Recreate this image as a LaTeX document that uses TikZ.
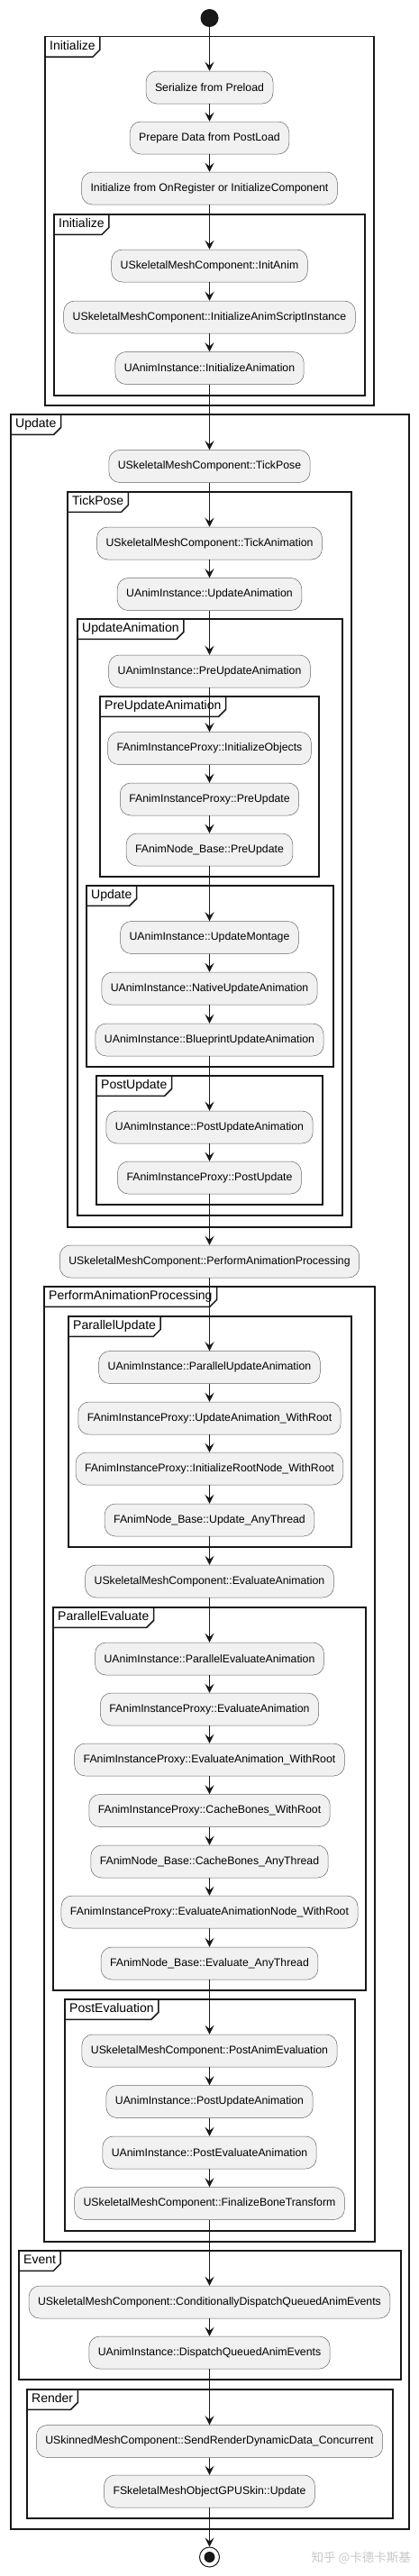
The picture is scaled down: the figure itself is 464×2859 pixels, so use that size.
\documentclass[tikz,border=0pt]{standalone}
\usepackage{fontspec}
\setmainfont{Liberation Sans}
\newfontfamily\cjkfont{Noto Sans CJK SC}
\usetikzlibrary{arrows.meta}
\definecolor{lineclr}{HTML}{181818}
\definecolor{actfill}{HTML}{F1F1F1}

\begin{document}
\begin{tikzpicture}[x=1pt, y=-1pt,
  act/.style={rectangle, draw=black!60, line width=0.5pt, fill=actfill, rounded corners=12pt, minimum height=36pt, inner xsep=10pt, font=\fontsize{12.3}{14}\selectfont},
  arrow/.style={-{Stealth[length=10pt, width=10pt, inset=4pt]}, line width=1pt, draw=lineclr},
  frm/.style={draw=lineclr, line width=1.5pt},
  tab/.style={anchor=north west, inner xsep=5pt, inner ysep=0pt, minimum height=22pt, text height=10pt, text depth=3pt, font=\fontsize{14}{16}\selectfont}
]
  \useasboundingbox (0,0) rectangle (464,2859);

  % frames
  \draw[frm] (50,40.7) rectangle (415,450);
  \node[tab] (tInit) at (50,40.7) {Initialize};
  \draw[frm] (tInit.south west) -- ([xshift=-8pt]tInit.south east) -- ([yshift=8pt]tInit.south east) -- (tInit.north east);
  \draw[frm] (60,238) rectangle (405,439);
  \node[tab] (tInitB) at (60,238) {Initialize};
  \draw[frm] (tInitB.south west) -- ([xshift=-8pt]tInitB.south east) -- ([yshift=8pt]tInitB.south east) -- (tInitB.north east);
  \draw[frm] (12,460) rectangle (454,2807);
  \node[tab] (tUpd) at (12,460) {Update};
  \draw[frm] (tUpd.south west) -- ([xshift=-8pt]tUpd.south east) -- ([yshift=8pt]tUpd.south east) -- (tUpd.north east);
  \draw[frm] (75,546) rectangle (390,1362);
  \node[tab] (tTick) at (75,546) {TickPose};
  \draw[frm] (tTick.south west) -- ([xshift=-8pt]tTick.south east) -- ([yshift=8pt]tTick.south east) -- (tTick.north east);
  \draw[frm] (86,687) rectangle (380,1349);
  \node[tab] (tUpdAnim) at (86,687) {UpdateAnimation};
  \draw[frm] (tUpdAnim.south west) -- ([xshift=-8pt]tUpdAnim.south east) -- ([yshift=8pt]tUpdAnim.south east) -- (tUpdAnim.north east);
  \draw[frm] (111,773) rectangle (354,973);
  \node[tab] (tPre) at (111,773) {PreUpdateAnimation};
  \draw[frm] (tPre.south west) -- ([xshift=-8pt]tPre.south east) -- ([yshift=8pt]tPre.south east) -- (tPre.north east);
  \draw[frm] (96,983) rectangle (370,1184);
  \node[tab] (tUpdB) at (96,983) {Update};
  \draw[frm] (tUpdB.south west) -- ([xshift=-8pt]tUpdB.south east) -- ([yshift=8pt]tUpdB.south east) -- (tUpdB.north east);
  \draw[frm] (107,1194) rectangle (358,1337);
  \node[tab] (tPost) at (107,1194) {PostUpdate};
  \draw[frm] (tPost.south west) -- ([xshift=-8pt]tPost.south east) -- ([yshift=8pt]tPost.south east) -- (tPost.north east);
  \draw[frm] (49,1428) rectangle (416,2488);
  \node[tab] (tPerf) at (49,1428) {PerformAnimationProcessing};
  \draw[frm] (tPerf.south west) -- ([xshift=-8pt]tPerf.south east) -- ([yshift=8pt]tPerf.south east) -- (tPerf.north east);
  \draw[frm] (76,1461) rectangle (390,1717);
  \node[tab] (tParUpd) at (76,1461) {ParallelUpdate};
  \draw[frm] (tParUpd.south west) -- ([xshift=-8pt]tParUpd.south east) -- ([yshift=8pt]tParUpd.south east) -- (tParUpd.north east);
  \draw[frm] (59,1784) rectangle (406,2209);
  \node[tab] (tParEval) at (59,1784) {ParallelEvaluate};
  \draw[frm] (tParEval.south west) -- ([xshift=-8pt]tParEval.south east) -- ([yshift=8pt]tParEval.south east) -- (tParEval.north east);
  \draw[frm] (72,2219) rectangle (394,2476);
  \node[tab] (tPostEval) at (72,2219) {PostEvaluation};
  \draw[frm] (tPostEval.south west) -- ([xshift=-8pt]tPostEval.south east) -- ([yshift=8pt]tPostEval.south east) -- (tPostEval.north east);
  \draw[frm] (21,2498) rectangle (445,2641);
  \node[tab] (tEvent) at (21,2498) {Event};
  \draw[frm] (tEvent.south west) -- ([xshift=-8pt]tEvent.south east) -- ([yshift=8pt]tEvent.south east) -- (tEvent.north east);
  \draw[frm] (30,2652) rectangle (436,2795);
  \node[tab] (tRender) at (30,2652) {Render};
  \draw[frm] (tRender.south west) -- ([xshift=-8pt]tRender.south east) -- ([yshift=8pt]tRender.south east) -- (tRender.north east);

  % activities
  \node[circle, fill=lineclr, minimum size=20pt, inner sep=0pt] (start) at (232.5,20) {};
  \node[act] (serialize) at (232.5,97) {Serialize from Preload};
  \node[act] (prepare) at (232.5,153) {Prepare Data from PostLoad};
  \node[act] (register) at (232.5,209) {Initialize from OnRegister or InitializeComponent};
  \node[act] (initanim) at (232.5,295) {USkeletalMeshComponent::InitAnim};
  \node[act] (scriptinst) at (232.5,352) {USkeletalMeshComponent::InitializeAnimScriptInstance};
  \node[act] (initanimation) at (232.5,408.5) {UAnimInstance::InitializeAnimation};
  \node[act] (tickpose) at (232.5,517.5) {USkeletalMeshComponent::TickPose};
  \node[act] (tickanim) at (232.5,603) {USkeletalMeshComponent::TickAnimation};
  \node[act] (updanim) at (232.5,659.5) {UAnimInstance::UpdateAnimation};
  \node[act] (preupd) at (232.5,745) {UAnimInstance::PreUpdateAnimation};
  \node[act] (initobj) at (232.5,830.5) {FAnimInstanceProxy::InitializeObjects};
  \node[act] (proxypre) at (232.5,887) {FAnimInstanceProxy::PreUpdate};
  \node[act] (nodepre) at (232.5,943) {FAnimNode\_Base::PreUpdate};
  \node[act] (montage) at (232.5,1040.5) {UAnimInstance::UpdateMontage};
  \node[act] (native) at (232.5,1097) {UAnimInstance::NativeUpdateAnimation};
  \node[act] (blueprint) at (232.5,1154) {UAnimInstance::BlueprintUpdateAnimation};
  \node[act] (postupd) at (232.5,1251) {UAnimInstance::PostUpdateAnimation};
  \node[act] (proxypost) at (232.5,1307) {FAnimInstanceProxy::PostUpdate};
  \node[act] (perform) at (232.5,1400) {USkeletalMeshComponent::PerformAnimationProcessing};
  \node[act] (parupd) at (232.5,1517.5) {UAnimInstance::ParallelUpdateAnimation};
  \node[act] (updroot) at (232.5,1574) {FAnimInstanceProxy::UpdateAnimation\_WithRoot};
  \node[act] (initroot) at (232.5,1630) {FAnimInstanceProxy::InitializeRootNode\_WithRoot};
  \node[act] (updany) at (232.5,1687) {FAnimNode\_Base::Update\_AnyThread};
  \node[act] (evalanim) at (232.5,1755) {USkeletalMeshComponent::EvaluateAnimation};
  \node[act] (pareval) at (232.5,1841) {UAnimInstance::ParallelEvaluateAnimation};
  \node[act] (proxyeval) at (232.5,1897) {FAnimInstanceProxy::EvaluateAnimation};
  \node[act] (evalroot) at (232.5,1953) {FAnimInstanceProxy::EvaluateAnimation\_WithRoot};
  \node[act] (cacheroot) at (232.5,2009.5) {FAnimInstanceProxy::CacheBones\_WithRoot};
  \node[act] (cacheany) at (232.5,2066) {FAnimNode\_Base::CacheBones\_AnyThread};
  \node[act] (evalnode) at (232.5,2122) {FAnimInstanceProxy::EvaluateAnimationNode\_WithRoot};
  \node[act] (evalany) at (232.5,2179) {FAnimNode\_Base::Evaluate\_AnyThread};
  \node[act] (postanim) at (232.5,2276) {USkeletalMeshComponent::PostAnimEvaluation};
  \node[act] (postupdb) at (232.5,2332.5) {UAnimInstance::PostUpdateAnimation};
  \node[act] (posteval) at (232.5,2389) {UAnimInstance::PostEvaluateAnimation};
  \node[act] (finalize) at (232.5,2445.5) {USkeletalMeshComponent::FinalizeBoneTransform};
  \node[act] (condevents) at (232.5,2555) {USkeletalMeshComponent::ConditionallyDispatchQueuedAnimEvents};
  \node[act] (dispatch) at (232.5,2611) {UAnimInstance::DispatchQueuedAnimEvents};
  \node[act] (sendrender) at (232.5,2709.5) {USkinnedMeshComponent::SendRenderDynamicData\_Concurrent};
  \node[act] (gpuskin) at (232.5,2765) {FSkeletalMeshObjectGPUSkin::Update};
  \node[circle, draw=lineclr, line width=1pt, minimum size=22pt, inner sep=0pt] (stop) at (232.5,2838) {};
  \fill[lineclr] (stop.center) circle (6pt);

  % flow
  \draw[arrow] (start) -- (serialize);
  \draw[arrow] (serialize) -- (prepare);
  \draw[arrow] (prepare) -- (register);
  \draw[arrow] (register) -- (initanim);
  \draw[arrow] (initanim) -- (scriptinst);
  \draw[arrow] (scriptinst) -- (initanimation);
  \draw[arrow] (initanimation) -- (tickpose);
  \draw[arrow] (tickpose) -- (tickanim);
  \draw[arrow] (tickanim) -- (updanim);
  \draw[arrow] (updanim) -- (preupd);
  \draw[arrow] (preupd) -- (initobj);
  \draw[arrow] (initobj) -- (proxypre);
  \draw[arrow] (proxypre) -- (nodepre);
  \draw[arrow] (nodepre) -- (montage);
  \draw[arrow] (montage) -- (native);
  \draw[arrow] (native) -- (blueprint);
  \draw[arrow] (blueprint) -- (postupd);
  \draw[arrow] (postupd) -- (proxypost);
  \draw[arrow] (proxypost) -- (perform);
  \draw[arrow] (perform) -- (parupd);
  \draw[arrow] (parupd) -- (updroot);
  \draw[arrow] (updroot) -- (initroot);
  \draw[arrow] (initroot) -- (updany);
  \draw[arrow] (updany) -- (evalanim);
  \draw[arrow] (evalanim) -- (pareval);
  \draw[arrow] (pareval) -- (proxyeval);
  \draw[arrow] (proxyeval) -- (evalroot);
  \draw[arrow] (evalroot) -- (cacheroot);
  \draw[arrow] (cacheroot) -- (cacheany);
  \draw[arrow] (cacheany) -- (evalnode);
  \draw[arrow] (evalnode) -- (evalany);
  \draw[arrow] (evalany) -- (postanim);
  \draw[arrow] (postanim) -- (postupdb);
  \draw[arrow] (postupdb) -- (posteval);
  \draw[arrow] (posteval) -- (finalize);
  \draw[arrow] (finalize) -- (condevents);
  \draw[arrow] (condevents) -- (dispatch);
  \draw[arrow] (dispatch) -- (sendrender);
  \draw[arrow] (sendrender) -- (gpuskin);
  \draw[arrow] (gpuskin) -- (stop);

  \node[anchor=west, text=black!22, font=\cjkfont\fontsize{13.5}{15}\selectfont] (mark) at (342,2839) {知乎 @卡德卡斯基};
\end{tikzpicture}
\end{document}
